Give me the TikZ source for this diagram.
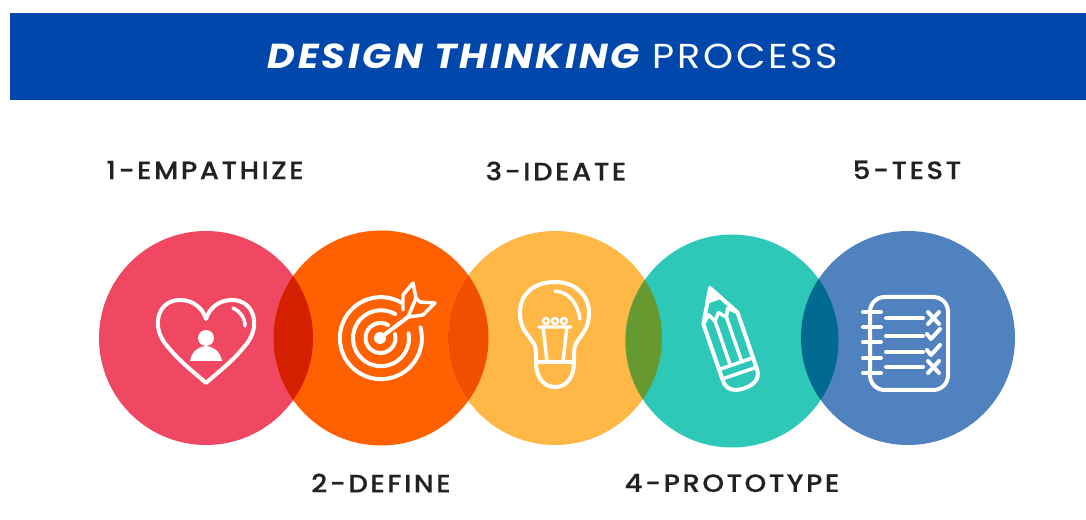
\documentclass[tikz,border=0pt]{standalone}
\usepackage{fontspec}
\setmainfont{Poppins}
\newfontfamily\labfont[LetterSpace=10,FakeStretch=1.1,FakeBold=0.4]{Poppins Medium}
\newfontfamily\ttlfont[LetterSpace=8,FakeStretch=1.1]{Poppins}
\definecolor{banner}{HTML}{0047AB}
\definecolor{cone}{HTML}{F04862}
\definecolor{ctwo}{HTML}{FF6000}
\definecolor{cthree}{HTML}{FFB845}
\definecolor{cfour}{HTML}{2EC8B8}
\definecolor{cfive}{HTML}{4F82BE}
\definecolor{lenA}{HTML}{D42000}
\definecolor{lenB}{HTML}{F04E00}
\definecolor{lenC}{HTML}{669A30}
\definecolor{lenD}{HTML}{006A90}
\definecolor{txt}{HTML}{222222}
\tikzset{
  icon/.style={draw=white,line width=3pt,line cap=round,line join=round},
  thin icon/.style={draw=white,line width=2.6pt,line cap=round,line join=round},
  lab/.style={text=txt,inner sep=0pt,font=\labfont\fontsize{18.8}{21}\selectfont},
}
\begin{document}
\begin{tikzpicture}[x=0.75pt,y=-0.75pt]
\useasboundingbox (0,0) rectangle (1086,520);
\fill[white] (0,0) rectangle (1086,520);
\fill[banner] (10,13) rectangle (1086,100);
\node[text=white,inner sep=0pt] (title) at (553,56) {\fontsize{26}{28}\selectfont\ttlfont{\bfseries\itshape DESIGN THINKING} PROCESS};
% circles
\fill[cone] (206,338) circle (107);
\fill[ctwo] (381,338) circle (107.5);
\fill[cthree] (555,338) circle (107);
\fill[cfour] (732,341) circle (106.5);
\fill[cfive] (908,338) circle (107);
\begin{scope}\clip (206,338) circle (107); \fill[lenA] (381,338) circle (107.5);\end{scope}
\begin{scope}\clip (381,338) circle (107.5); \fill[lenB] (555,338) circle (107);\end{scope}
\begin{scope}\clip (555,338) circle (107); \fill[lenC] (732,341) circle (106.5);\end{scope}
\begin{scope}\clip (732,341) circle (106.5); \fill[lenD] (908,338) circle (107);\end{scope}
% labels
\node[lab] (l1) at (205,170) {1-EMPATHIZE};
\node[lab] (l3) at (556,171) {3-IDEATE};
\node[lab] (l5) at (907,170) {5-TEST};
\node[lab] (l2) at (381,483) {2-DEFINE};
\node[lab] (l4) at (732,483) {4-PROTOTYPE};
% heart
\draw[icon] (206,383) .. controls (195,373) and (180,362) .. (168,347) .. controls (150,328) and (157,300) .. (180,300)
  .. controls (194,300) and (203,309) .. (206,319)
  .. controls (209,309) and (218,300) .. (232,300)
  .. controls (255,300) and (262,328) .. (244,347) .. controls (232,362) and (217,373) .. (206,383) -- cycle;
\draw[thin icon] (233,308) .. controls (240,311) and (245,318) .. (245,326);
\fill[white] (206,338) circle (8);
\fill[white] (190,361) .. controls (192,351) and (198,347) .. (206,346) .. controls (214,347) and (220,351) .. (222,361) -- cycle;
% target
\draw[icon] (402,303) arc[start angle=-59,end angle=-375,radius=41]; 
\draw[icon] (395,314) arc[start angle=-60,end angle=-370,radius=28];
\draw[icon] (388,325) arc[start angle=-60,end angle=-375,radius=15];
\fill[white] (380,338) circle (6);
\draw[icon] (380,338) -- (408,317);
\draw[thin icon] (403,310) -- (403,295) -- (413,283) -- (416,298) -- (408,317) -- (423,315) -- (435,303) -- (420,302) -- (416,298);
% bulb
\draw[icon] (536,362) -- (536,352) .. controls (536,338) and (520,335) .. (520,313)
  .. controls (520,293) and (535,282) .. (555,282)
  .. controls (575,282) and (589,295) .. (589,313)
  .. controls (589,335) and (574,338) .. (574,352) -- (574,362)
  .. controls (574,378) and (566,387) .. (555,387)
  .. controls (544,387) and (536,378) .. (536,362) -- cycle;
\draw[icon] (536,362) -- (574,362);
\draw[thin icon] (555,291) .. controls (570,292) and (578,305) .. (580,319);
\draw[thin icon] (539,327) -- (571,327) (543,327) -- (547,361) (567,327) -- (563,361);
\draw[line width=1.8pt,draw=white] (546,321) circle (3) (555,321) circle (3) (564,321) circle (3);
% pencil
\begin{scope}[shift={(710,288)},rotate=19]
\draw[icon] (0,0) -- (-18,32) -- (-18,92) .. controls (-18,102) and (-10,106) .. (0,106) .. controls (10,106) and (18,102) .. (18,92) -- (18,32) -- cycle;
\fill[white] (0,0) -- (-8,14) -- (8,14) -- cycle;
\draw[thin icon] (-18,32) -- (-10,25) -- (-6,33) -- (0,26) -- (6,33) -- (10,25) -- (18,32);
\draw[thin icon] (-6,33) -- (-6,80) (6,33) -- (6,80);
\draw[thin icon] (-18,80) -- (18,80) (-18,90) -- (18,90);
\end{scope}
% notebook
\draw[icon,rounded corners=11pt] (870,297) rectangle (948,390);
\foreach \yy in {312,327,342,358,373} \draw[icon] (863,\yy) -- (881,\yy);
\foreach \yy in {318,336,352,367} \draw[icon] (886,\yy) -- (923,\yy);
\foreach \yy in {318,367} \draw[icon] (928,\yy-6) -- (939,\yy+6) (939,\yy-6) -- (928,\yy+6);
\foreach \yy in {334,350} \draw[icon] (927,\yy) -- (931,\yy+5) -- (940,\yy-5);
\end{tikzpicture}
\end{document}
